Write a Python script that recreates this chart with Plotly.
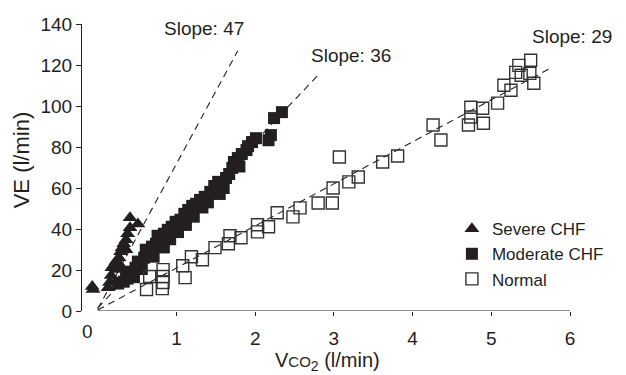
import plotly.graph_objects as go

# ---- data ----
severe_x = [-0.07, -0.06, 0.13, 0.15, 0.17, 0.18, 0.20, 0.23, 0.27, 0.29, 0.31, 0.33, 0.36, 0.38, 0.41, 0.41, 0.51, 0.26, 0.28, 0.36]
severe_y = [11.9, 10.5, 11.4, 13.9, 17.3, 21.1, 22.1, 24.1, 26.0, 28.9, 30.9, 32.8, 34.8, 37.7, 40.6, 45.5, 42.5, 20.2, 22.6, 29.9]

moderate_x = [0.26, 0.33, 0.38, 0.36, 0.43, 0.48, 0.54, 0.51, 0.59, 0.64, 0.61, 0.69, 0.74, 0.79, 0.76, 0.84,
              0.89, 0.94, 0.99, 1.05, 1.10, 1.15, 1.20, 1.25, 1.30, 1.36, 1.43, 1.48, 1.53, 1.55, 1.63, 1.67,
              1.71, 1.73, 1.78, 1.83, 1.89, 1.91, 1.96, 2.01, 2.17, 2.20, 2.24, 2.34,
              0.46, 0.71, 0.92, 1.12, 1.33, 1.60, 0.56, 0.84, 1.02, 1.22, 1.40, 1.80]
moderate_y = [13.4, 14.3, 15.8, 18.2, 19.2, 21.1, 22.6, 24.1, 26.0, 28.0, 29.9, 31.4, 32.8, 34.8, 36.7, 37.7,
              39.6, 41.1, 43.5, 44.5, 47.4, 49.3, 51.3, 52.3, 54.2, 55.7, 58.1, 61.0, 63.0, 57.1, 64.9, 66.8,
              69.8, 72.7, 74.6, 76.6, 78.5, 80.4, 82.4, 84.3, 83.3, 85.8, 94.1, 97.0,
              16.5, 26.5, 35.0, 42.0, 50.5, 60.0, 20.5, 31.0, 38.5, 46.0, 53.0, 70.5]

normal_x = [0.62, 0.66, 0.82, 0.83, 0.83, 0.83, 1.11, 1.08, 1.19, 1.33, 1.49, 1.66, 1.68, 1.82, 2.03, 2.03,
            2.17, 2.28, 2.48, 2.57, 2.80, 2.98, 2.99, 3.19, 3.31, 3.07, 3.62, 3.81, 4.26, 4.36, 4.74, 4.71,
            4.90, 4.89, 4.74, 5.08, 5.16, 5.25, 5.38, 5.35, 5.50, 5.49, 5.54, 5.31]
normal_y = [10.5, 16.8, 10.9, 13.9, 16.8, 20.2, 16.3, 22.1, 26.5, 25.0, 30.9, 32.8, 36.7, 35.7, 42.1, 38.6,
            41.1, 47.9, 45.9, 50.3, 52.7, 52.7, 60.0, 63.0, 65.4, 75.1, 72.7, 75.6, 90.7, 83.4, 99.4, 90.7,
            91.6, 98.9, 94.6, 101.4, 110.1, 107.7, 115.0, 119.8, 122.3, 115.9, 111.1, 116.4]

# reference lines (start / end points)
line47_x = [0.0, 1.78]
line47_y = [1.0, 127.0]
line36_x = [0.0, 2.81]
line36_y = [1.5, 115.5]
line29_x = [0.0, 5.75]
line29_y = [0.5, 118.4]

slope_labels = ["Slope: 47", "Slope: 36", "Slope: 29"]
slope_label_x = [1.35, 3.22, 6.03]
slope_label_y = [138.0, 124.5, 134.0]

x_ticks = [1, 2, 3, 4, 5, 6]
y_ticks = [0, 20, 40, 60, 80, 100, 120, 140]

X_RANGE = [-0.2, 6.0]
Y_RANGE = [0, 140]

INK = "#231f20"
FONT = "Liberation Sans, Arial, Helvetica, sans-serif"

fig = go.Figure()

for lx, ly in [(line47_x, line47_y), (line36_x, line36_y), (line29_x, line29_y)]:
    fig.add_trace(go.Scatter(x=lx, y=ly, mode="lines", showlegend=False, hoverinfo="skip",
                             line=dict(color=INK, width=1.1, dash="7px,5px")))

fig.add_trace(go.Scatter(x=severe_x, y=severe_y, mode="markers", name="Severe CHF",
                         marker=dict(symbol="triangle-up", size=13, color=INK, line=dict(width=0))))
fig.add_trace(go.Scatter(x=moderate_x, y=moderate_y, mode="markers", name="Moderate CHF",
                         marker=dict(symbol="square", size=12, color=INK, line=dict(width=0))))
fig.add_trace(go.Scatter(x=normal_x, y=normal_y, mode="markers", name="Normal",
                         marker=dict(symbol="square-open", size=12, color="#333333",
                                     line=dict(width=1.4, color="#333333"))))

# x axis line starting at x = 0
fig.add_shape(type="line", xref="x", yref="y", x0=0, x1=6, y0=0, y1=0,
              line=dict(color=INK, width=1.2))


def to_paper_x(v):
    return (v - X_RANGE[0]) / (X_RANGE[1] - X_RANGE[0])


def to_paper_y(v):
    return (v - Y_RANGE[0]) / (Y_RANGE[1] - Y_RANGE[0])


annotations = []
for t, ax, ay in zip(slope_labels, slope_label_x, slope_label_y):
    annotations.append(dict(x=to_paper_x(ax), y=to_paper_y(ay), xref="paper", yref="paper",
                            text=t, showarrow=False, xanchor="center", yanchor="middle",
                            font=dict(family=FONT, size=19, color=INK)))
annotations.append(dict(x=to_paper_x(-0.125), y=0, xref="paper", yref="paper", text="0",
                        showarrow=False, xanchor="center", yanchor="middle", yshift=-20,
                        font=dict(family=FONT, size=19, color=INK)))
annotations.append(dict(x=-0.125, y=0.525, xref="paper", yref="paper", text="VE (l/min)",
                        showarrow=False, textangle=-90, xanchor="center", yanchor="middle",
                        font=dict(family=FONT, size=22, color=INK)))
annotations.append(dict(x=0.504, y=-0.175, xref="paper", yref="paper",
                        text="V<span style='font-size:15px'>CO</span><sub>2</sub> (l/min)",
                        showarrow=False, xanchor="center", yanchor="middle",
                        font=dict(family=FONT, size=20, color=INK)))

fig.update_layout(
    width=626, height=375,
    margin=dict(l=82, r=56, t=23.5, b=63.5),
    paper_bgcolor="white", plot_bgcolor="white",
    font=dict(family=FONT, color=INK),
    annotations=annotations,
    legend=dict(x=0.758, y=0.348, xanchor="left", yanchor="top",
                font=dict(family=FONT, size=17, color=INK),
                bgcolor="rgba(0,0,0,0)", tracegroupgap=0),
    xaxis=dict(range=X_RANGE, showgrid=False, zeroline=False, showline=False,
               tickvals=x_ticks, ticks="outside", ticklen=4, tickwidth=1.2, tickcolor=INK,
               ticklabelstandoff=6,
               tickfont=dict(family=FONT, size=19, color=INK)),
    yaxis=dict(range=Y_RANGE, showgrid=False, zeroline=False, showline=True,
               linecolor=INK, linewidth=1.2, tickvals=y_ticks, ticks="outside",
               ticklen=5, tickwidth=1.2, tickcolor=INK,
               tickfont=dict(family=FONT, size=19, color=INK)),
)

fig.write_html("out.html")
